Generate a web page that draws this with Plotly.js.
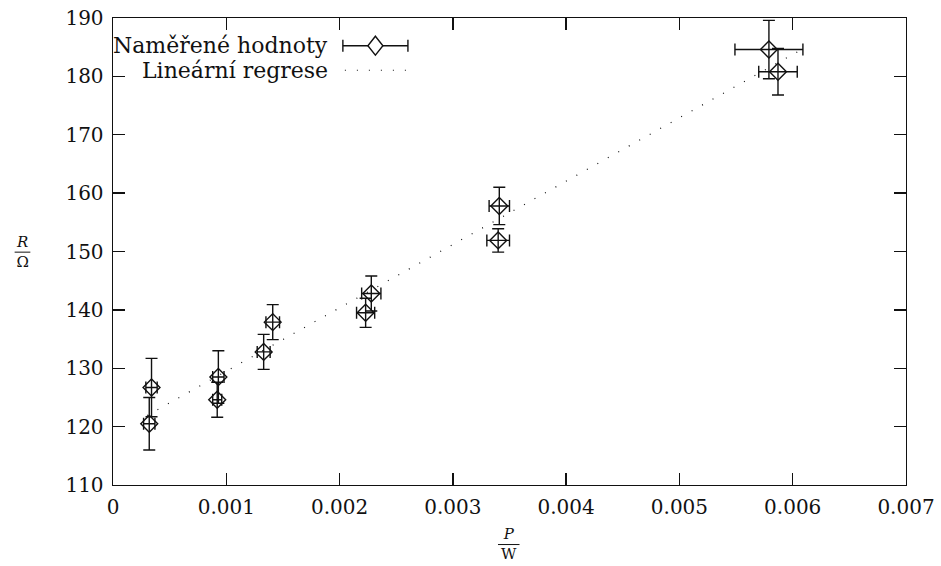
<!DOCTYPE html>
<html>
<head>
<meta charset="utf-8">
<script src="https://cdn.plot.ly/plotly-3.0.1.min.js"></script>
<style>html,body{margin:0;padding:0;background:#fff;}#chart{width:941px;height:566px;}</style>
</head>
<body>
<div id="chart"></div>
<script>
// Measured values (P in W, R in Ohm)
var powerW    = [0.00034, 0.00032, 0.00093, 0.00092, 0.00133, 0.00141, 0.00223, 0.00228, 0.00341, 0.00340, 0.00579, 0.00587];
var resistOhm = [126.7, 120.5, 128.5, 124.6, 132.8, 137.9, 139.5, 142.8, 157.8, 151.9, 184.6, 180.8];
var errR      = [5, 4.5, 4.5, 3, 3, 3, 2.5, 3, 3.2, 2, 5, 4];
var errP      = [0.00005, 0.00005, 0.00005, 0.00004, 0.000057, 0.00006, 0.00008, 0.000085, 0.00009, 0.0001, 0.0003, 0.00017];
// Linear regression end points
var regP = [0.0003, 0.00605];
var regR = [121.9, 184.3];
// Ticks
var xTicks = [0, 0.001, 0.002, 0.003, 0.004, 0.005, 0.006, 0.007];
var xTickText = ['0', '0.001', '0.002', '0.003', '0.004', '0.005', '0.006', '0.007'];
var yTicks = [110, 120, 130, 140, 150, 160, 170, 180, 190];
var legendNames = ['Naměřené hodnoty', 'Lineární regrese'];

var FONT = 'DejaVu Serif, serif';
var INK = '#111';

var L = 113.3, R = 905.7, T = 18.3, B = 485;
function px(x){ return (x - L) / (R - L); }
function py(y){ return (B - y) / (B - T); }

var traces = [
  {
    x: regP, y: regR, mode: 'lines', type: 'scatter', name: legendNames[1],
    line: {color: INK, width: 1.2, dash: '1px,11px'}, hoverinfo: 'skip', showlegend: false
  },
  {
    x: powerW, y: resistOhm, mode: 'markers', type: 'scatter', name: legendNames[0],
    marker: {symbol: 'diamond-open', size: 13, color: INK, line: {width: 1.4, color: INK}},
    error_y: {type: 'data', array: errR, visible: true, color: INK, thickness: 1.4, width: 6},
    error_x: {type: 'data', array: errP, visible: true, color: INK, thickness: 1.4, width: 6},
    showlegend: false
  }
];

// Legend sample geometry (pixel positions)
var lgY1 = 46, lgY2 = 70.5, lgX0 = 343, lgX1 = 408, lgXc = 375.5;
var shapes = [
  {type: 'line', xref: 'paper', yref: 'paper', x0: px(lgX0), x1: px(lgX1), y0: py(lgY1), y1: py(lgY1), line: {color: INK, width: 1.4}},
  {type: 'line', xref: 'paper', yref: 'paper', x0: px(lgX0), x1: px(lgX0), y0: py(lgY1 - 6), y1: py(lgY1 + 6), line: {color: INK, width: 1.4}},
  {type: 'line', xref: 'paper', yref: 'paper', x0: px(lgX1), x1: px(lgX1), y0: py(lgY1 - 6), y1: py(lgY1 + 6), line: {color: INK, width: 1.4}},
  {type: 'path', xref: 'paper', yref: 'paper', fillcolor: '#fff',
   path: 'M ' + px(lgXc) + ' ' + py(lgY1 - 9.5) + ' L ' + px(lgXc + 7.5) + ' ' + py(lgY1) + ' L ' + px(lgXc) + ' ' + py(lgY1 + 9.5) + ' L ' + px(lgXc - 7.5) + ' ' + py(lgY1) + ' Z',
   line: {color: INK, width: 1.4}},
  {type: 'line', xref: 'paper', yref: 'paper', x0: px(lgX0 + 2), x1: px(lgX1), y0: py(lgY2), y1: py(lgY2), line: {color: INK, width: 1.2, dash: '1px,11px'}},
  // fraction bars
  {type: 'line', xref: 'paper', yref: 'paper', x0: px(498), x1: px(519.5), y0: py(544.5), y1: py(544.5), line: {color: INK, width: 1}},
  {type: 'line', xref: 'paper', yref: 'paper', x0: px(15), x1: px(30.7), y0: py(252.3), y1: py(252.3), line: {color: INK, width: 1}}
];

var annotations = [
  {xref: 'paper', yref: 'paper', x: px(330), y: py(lgY1), xanchor: 'right', yanchor: 'middle', showarrow: false, text: legendNames[0], font: {family: FONT, size: 22, color: INK}},
  {xref: 'paper', yref: 'paper', x: px(330), y: py(lgY2), xanchor: 'right', yanchor: 'middle', showarrow: false, text: legendNames[1], font: {family: FONT, size: 22, color: INK}},
  {xref: 'paper', yref: 'paper', x: px(508.7), y: py(544), xanchor: 'center', yanchor: 'middle', showarrow: false, borderpad: 0, text: '<i>P</i><br>W', font: {family: FONT, size: 15, color: INK}},
  {xref: 'paper', yref: 'paper', x: px(22.8), y: py(252), xanchor: 'center', yanchor: 'middle', showarrow: false, borderpad: 0, text: '<i>R</i><br>Ω', font: {family: FONT, size: 15, color: INK}}
];

var layout = {
  width: 941, height: 566,
  margin: {l: L, r: 941 - R, t: T, b: 566 - B, pad: 0},
  paper_bgcolor: '#fff', plot_bgcolor: '#fff',
  showlegend: false,
  font: {family: FONT, size: 20, color: INK},
  xaxis: {
    range: [0, 0.007], tickvals: xTicks, ticktext: xTickText,
    ticks: 'inside', ticklen: 12, tickwidth: 1.3, tickcolor: INK,
    showline: true, linecolor: INK, linewidth: 1.4, mirror: 'ticks',
    showgrid: false, zeroline: false, ticklabelstandoff: 4,
    tickfont: {family: FONT, size: 20, color: INK}
  },
  yaxis: {
    range: [110, 190], tickvals: yTicks,
    ticks: 'inside', ticklen: 12, tickwidth: 1.3, tickcolor: INK,
    showline: true, linecolor: INK, linewidth: 1.4, mirror: 'ticks',
    showgrid: false, zeroline: false, ticklabelstandoff: 4,
    tickfont: {family: FONT, size: 20, color: INK}
  },
  shapes: shapes,
  annotations: annotations
};

Plotly.newPlot('chart', traces, layout, {displayModeBar: false, staticPlot: true});
</script>
</body>
</html>
